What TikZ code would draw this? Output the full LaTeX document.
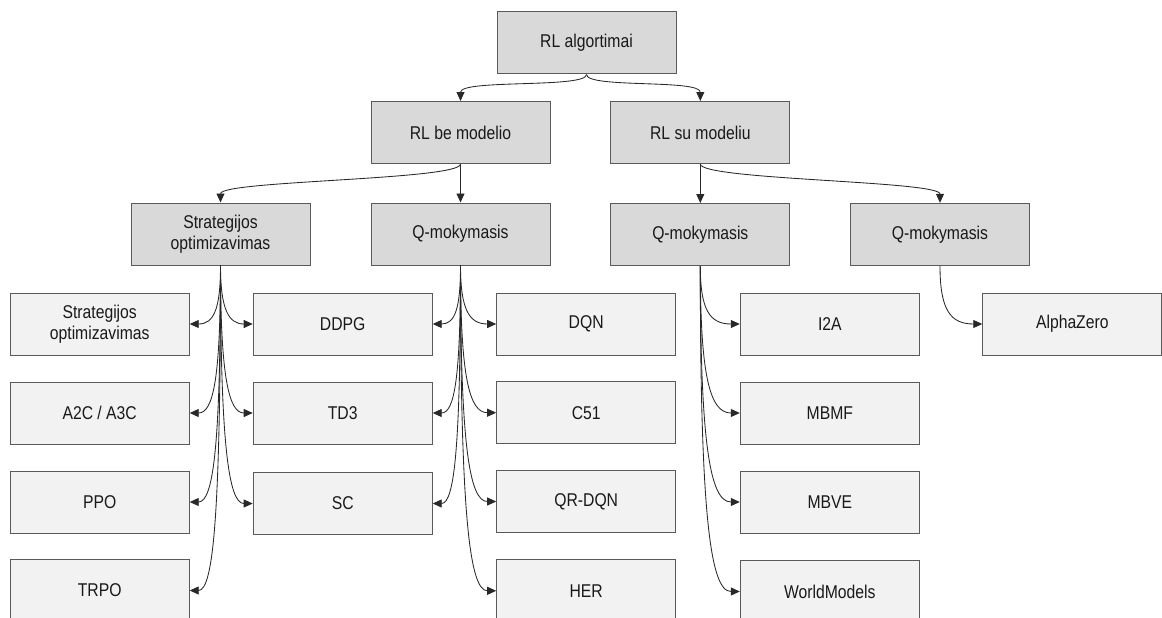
\documentclass[tikz,border=0pt]{standalone}
\usepackage{fontspec}
\setmainfont{Liberation Sans}[FakeStretch=0.85]
\usepackage{tikz}
\usetikzlibrary{arrows.meta,positioning}
\usepackage{xcolor}
\definecolor{catgray}{RGB}{217,217,217}
\definecolor{leafgray}{RGB}{242,242,242}
\definecolor{framegray}{RGB}{90,90,90}
\definecolor{textdark}{RGB}{25,25,25}
\definecolor{linkdark}{RGB}{40,40,40}
\tikzset{
    catbox/.style={draw=framegray, fill=catgray, line width=1pt,
        minimum width=179pt, minimum height=62pt, inner sep=0pt,
        align=center, text=textdark, font=\fontsize{18.5}{21}\selectfont},
    algbox/.style={catbox, fill=leafgray},
    link/.style={draw=linkdark, line width=0.85pt, -{Triangle[length=9pt,width=8pt]}}
}

\begin{document}
\begin{tikzpicture}[x=1pt, y=-1pt]
    \useasboundingbox (0,0) rectangle (1162,618);
    \clip (0,0) rectangle (1162,618);

    % Root and the two families
    \node[catbox] (root) at (586.5,43) {RL algortimai};
    \node[catbox] (rlbe) at (460.5,132.5) {RL be modelio};
    \node[catbox] (rlsu) at (700.3,132.5) {RL su modeliu};
    \draw[link] (root.south) .. controls +(0,14) and +(0,-22) .. (rlbe.north);
    \draw[link] (root.south) .. controls +(0,14) and +(0,-22) .. (rlsu.north);

    % Second level
    \node[catbox] (strat) at (220.5,234) {Strategijos\\optimizavimas};
    \node[catbox] (qfree) at (460.5,234) {Q-mokymasis};
    \node[catbox] (qmod) at (700.3,234.5) {Q-mokymasis};
    \node[catbox] (qplan) at (940,234.3) {Q-mokymasis};
    \draw[link] (rlbe.south) .. controls +(0,16) and +(0,-22) .. (strat.north);
    \draw[link] (rlbe.south) -- (qfree.north);
    \draw[link] (rlsu.south) -- (qmod.north);
    \draw[link] (rlsu.south) .. controls +(0,16) and +(0,-22) .. (qplan.north);

    % Algorithms, column by column
    \node[algbox] (stratleaf) at (99.7,324) {Strategijos\\optimizavimas};
    \node[algbox] (a2c) at (99.7,413) {A2C / A3C};
    \node[algbox] (ppo) at (99.7,502) {PPO};
    \node[algbox] (trpo) at (99.7,590.5) {TRPO};

    \node[algbox] (ddpg) at (342.7,324) {DDPG};
    \node[algbox] (td3) at (342.7,413) {TD3};
    \node[algbox] (sc) at (342.7,503.5) {SC};

    \node[algbox] (dqn) at (586.2,324) {DQN};
    \node[algbox] (c51) at (586.2,412.7) {C51};
    \node[algbox] (qrdqn) at (586.2,501.5) {QR-DQN};
    \node[algbox] (her) at (586.2,590.8) {HER};

    \node[algbox] (i2a) at (829.8,324) {I2A};
    \node[algbox] (mbmf) at (829.8,413) {MBMF};
    \node[algbox] (mbve) at (829.8,502) {MBVE};
    \node[algbox] (worldm) at (829.8,591.5) {WorldModels};

    \node[algbox] (alpha) at (1072.3,324) {AlphaZero};

    % Fan out of policy optimisation
    \draw[link] (strat.south) .. controls +(0,44) and +(24,0) .. (stratleaf.east);
    \draw[link] (strat.south) .. controls +(0,111) and +(24,0) .. (a2c.east);
    \draw[link] (strat.south) .. controls +(0,178) and +(24,0) .. (ppo.east);
    \draw[link] (strat.south) .. controls +(0,245) and +(24,0) .. (trpo.east);
    \draw[link] (strat.south) .. controls +(0,44) and +(-24,0) .. (ddpg.west);
    \draw[link] (strat.south) .. controls +(0,111) and +(-24,0) .. (td3.west);
    \draw[link] (strat.south) .. controls +(0,179) and +(-24,0) .. (sc.west);

    % Fan out of model-free Q-learning
    \draw[link] (qfree.south) .. controls +(0,44) and +(22,0) .. (ddpg.east);
    \draw[link] (qfree.south) .. controls +(0,111) and +(22,0) .. (td3.east);
    \draw[link] (qfree.south) .. controls +(0,179) and +(22,0) .. (sc.east);
    \draw[link] (qfree.south) .. controls +(0,44) and +(-27,0) .. (dqn.west);
    \draw[link] (qfree.south) .. controls +(0,111) and +(-27,0) .. (c51.west);
    \draw[link] (qfree.south) .. controls +(0,178) and +(-27,0) .. (qrdqn.west);
    \draw[link] (qfree.south) .. controls +(0,245) and +(-27,0) .. (her.west);

    % Fan out of model-based branches
    \draw[link] (qmod.south) .. controls +(0,44) and +(-30,0) .. (i2a.west);
    \draw[link] (qmod.south) .. controls +(0,110) and +(-30,0) .. (mbmf.west);
    \draw[link] (qmod.south) .. controls +(0,177) and +(-30,0) .. (mbve.west);
    \draw[link] (qmod.south) .. controls +(0,244) and +(-30,0) .. (worldm.west);
    \draw[link] (qplan.south) .. controls +(0,44) and +(-32,0) .. (alpha.west);
\end{tikzpicture}
\end{document}
